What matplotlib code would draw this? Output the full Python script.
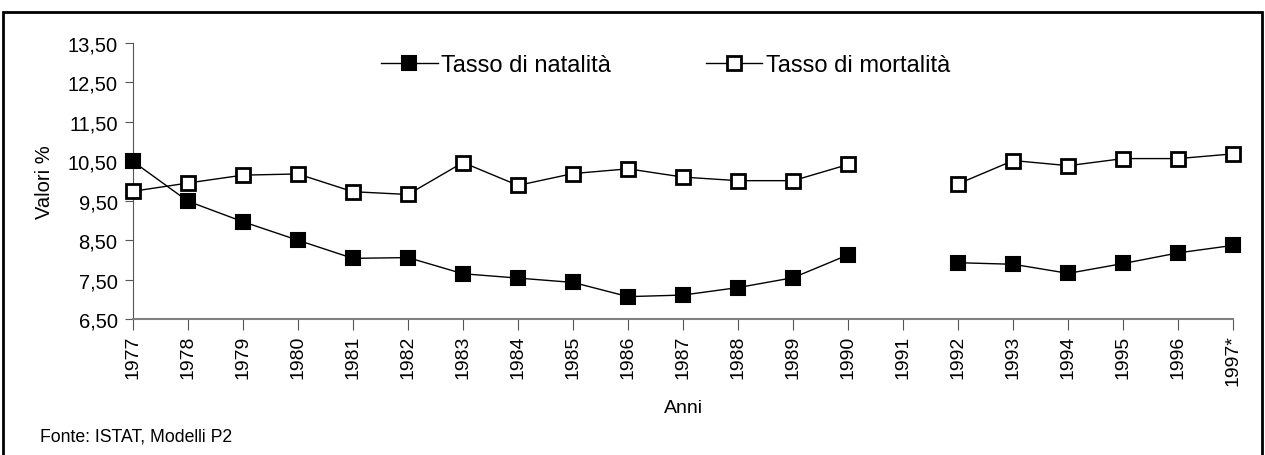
import numpy as np
import matplotlib
matplotlib.use("Agg")
import matplotlib.pyplot as plt
from matplotlib.patches import Rectangle
from matplotlib.ticker import FuncFormatter

plt.rcParams['font.family'] = ['Liberation Sans', 'DejaVu Sans']

anni = ['1977', '1978', '1979', '1980', '1981', '1982', '1983', '1984', '1985',
        '1986', '1987', '1988', '1989', '1990', '1991', '1992', '1993', '1994',
        '1995', '1996', '1997*']
natalita = [10.50, 9.49, 8.97, 8.50, 8.04, 8.06, 7.65, 7.54, 7.43, 7.07, 7.11,
            7.30, 7.55, 8.13, np.nan, 7.93, 7.89, 7.66, 7.91, 8.18, 8.37]
mortalita = [9.74, 9.95, 10.15, 10.18, 9.73, 9.66, 10.47, 9.89, 10.19, 10.31, 10.10,
             10.01, 10.01, 10.42, np.nan, 9.93, 10.52, 10.39, 10.57, 10.57, 10.69]
y_ticks = [6.5, 7.5, 8.5, 9.5, 10.5, 11.5, 12.5, 13.5]

fig = plt.figure(figsize=(12.65, 4.56), dpi=100)
ax = fig.add_axes([0.105, 0.298, 0.870, 0.6055])

x = np.arange(len(anni))
ax.plot(x, natalita, color='black', lw=1, marker='s', markersize=10,
        markerfacecolor='black', markeredgecolor='black', markeredgewidth=1.5,
        label='Tasso di natalità', clip_on=False, zorder=3)
ax.plot(x, mortalita, color='black', lw=1, marker='s', markersize=9.5,
        markerfacecolor='white', markeredgecolor='black', markeredgewidth=2,
        label='Tasso di mortalità', clip_on=False, zorder=3)

ax.set_xlim(0, len(anni) - 1)
ax.set_ylim(6.5, 13.5)
ax.set_yticks(y_ticks)
ax.yaxis.set_major_formatter(FuncFormatter(lambda v, p: f"{v:.2f}".replace('.', ',')))
ax.set_xticks(x)
ax.set_xticklabels(anni, rotation=90, fontsize=14)
ax.tick_params(axis='y', labelsize=14.5, direction='out', length=6, color='#555555', pad=5)
ax.tick_params(axis='x', direction='out', length=8, color='#555555', pad=3)

for s in ['top', 'right']:
    ax.spines[s].set_visible(False)
ax.spines['left'].set_color('#555555')
ax.spines['bottom'].set_color('#808080')
ax.spines['bottom'].set_linewidth(1.5)

ax.set_ylabel('Valori %', fontsize=14.5, labelpad=10)
ax.set_xlabel('Anni', fontsize=14, labelpad=10)

ax.legend(loc='center', bbox_to_anchor=(0.484, 0.92), ncol=2, frameon=False,
          fontsize=17, handlelength=2.4, columnspacing=4, handletextpad=0.15)

fig.text(40 / 1265, 1 - 437 / 456, 'Fonte: ISTAT, Modelli P2', fontsize=12.7,
         va='center', ha='left')

fig.patches.append(Rectangle((3 / 1265, -0.02), 1259 / 1265, 1.02 - 13 / 456,
                             transform=fig.transFigure, fill=False,
                             edgecolor='black', linewidth=2))

fig.savefig('out.png', dpi=100)
